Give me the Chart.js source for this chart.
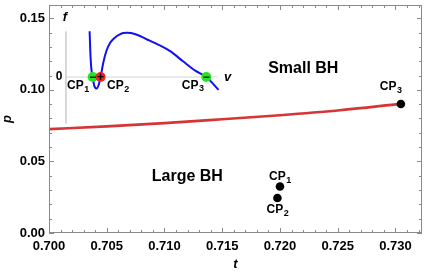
<!DOCTYPE html>
<html><head><meta charset="utf-8">
<script src="https://cdn.jsdelivr.net/npm/chart.js@4.4.1/dist/chart.umd.min.js"></script>
<style>html,body{margin:0;padding:0;background:#fff}#w{width:427px;height:273px}</style>
</head><body><div id="w"><canvas id="c" width="427" height="273"></canvas></div>
<script>
// Main phase-boundary curve (t, p)
const tBoundary = [0.700, 0.705, 0.710, 0.715, 0.720, 0.725, 0.7304];
const pBoundary = [0.0726, 0.0745, 0.0768, 0.0795, 0.0823, 0.0856, 0.0902];
// Critical points
const cpNames = ["CP1", "CP2", "CP3"];
const cpT = [0.7200, 0.71978, 0.73047];
const cpP = [0.0325, 0.0245, 0.0901];
// Inset curve f(v) (arbitrary inset units)
const insetV = [0.155, 0.160, 0.166, 0.175, 0.186, 0.201, 0.214, 0.227, 0.245, 0.266, 0.291, 0.320, 0.353, 0.375, 0.400, 0.451, 0.549, 0.680, 0.767, 0.850, 0.920, 1.0];
const insetF = [1.036, 0.55, 0.2, 0, -0.2, -0.26, -0.18, 0, 0.33, 0.60, 0.78, 0.89, 0.965, 0.995, 1.0, 0.975, 0.822, 0.591, 0.356, 0.14, 0, -0.289];
// Inset zero points with signs
const insetZeroV = [0.175, 0.227, 0.920];
const insetZeroSign = ["−", "+", "−"];
const insetZeroColor = ["#22e622", "#ee2020", "#22e622"];
// Ticks
const xMajor = [0.700, 0.705, 0.710, 0.715, 0.720, 0.725, 0.730];
const yMajor = [0.00, 0.05, 0.10, 0.15];

const FONT = "'Liberation Sans', Arial, sans-serif";

const textPlugin = {
  id: 'texts',
  afterDatasetsDraw(chart) {
    const ctx = chart.ctx, s = chart.scales;
    const X = v => s.x.getPixelForValue(v), Y = v => s.y.getPixelForValue(v);
    const XI = v => s.xi.getPixelForValue(v), YI = v => s.yi.getPixelForValue(v);
    ctx.save();
    ctx.fillStyle = '#000';
    ctx.textBaseline = 'middle';
    function cp(label, sub, x, y, size) {
      ctx.font = 'bold ' + size + 'px ' + FONT;
      const w1 = ctx.measureText(label).width;
      ctx.font = 'bold ' + Math.round(size * 0.72) + 'px ' + FONT;
      const w2 = ctx.measureText(sub).width;
      const x0 = x - (w1 + w2) / 2;
      ctx.textAlign = 'left';
      ctx.font = 'bold ' + size + 'px ' + FONT;
      ctx.fillText(label, x0, y);
      ctx.font = 'bold ' + Math.round(size * 0.72) + 'px ' + FONT;
      ctx.fillText(sub, x0 + w1 + 0.5, y + size * 0.3);
    }
    ctx.textAlign = 'center';
    ctx.font = 'bold 16px ' + FONT;
    ctx.fillText('Small BH', X(0.72202), Y(0.1148));
    ctx.fillText('Large BH', X(0.71198), Y(0.0397));
    cp('CP', '1', X(0.72000), Y(0.0390), 12);
    cp('CP', '2', X(0.71978), Y(0.0163), 12);
    cp('CP', '3', X(0.72958), Y(0.1020), 12);
    cp('CP', '1', XI(0.078), YI(-0.20), 12);
    cp('CP', '2', XI(0.34), YI(-0.20), 12);
    cp('CP', '3', XI(0.83), YI(-0.187), 12);
    ctx.textAlign = 'center';
    ctx.font = 'bold italic 13px ' + FONT;
    ctx.fillText('f', XI(-0.007), YI(1.34));
    ctx.fillText('v', XI(1.06), YI(-0.016));
    ctx.font = 'bold 12px ' + FONT;
    ctx.fillText('0', XI(-0.045), YI(0));
    ctx.font = 'bold 12px ' + FONT;
    insetZeroV.forEach((v, i) => ctx.fillText(insetZeroSign[i], XI(v), YI(0) + 0.5));
    ctx.restore();
  }
};

const framePlugin = {
  id: 'frame',
  afterDraw(chart) {
    const ctx = chart.ctx, a = chart.chartArea, s = chart.scales;
    ctx.save();
    ctx.strokeStyle = '#8a8a8a';
    ctx.lineWidth = 1;
    ctx.strokeRect(Math.round(a.left) + 0.5, Math.round(a.top) + 0.5, Math.round(a.right - a.left) - 1, Math.round(a.bottom - a.top) - 1);
    ctx.beginPath();
    for (let k = 700; k <= 732; k++) {
      const v = k / 1000;
      const px = Math.round(s.x.getPixelForValue(v)) + 0.5;
      const len = (k % 5 === 0) ? 5 : 3;
      ctx.moveTo(px, a.bottom); ctx.lineTo(px, a.bottom - len);
      ctx.moveTo(px, a.top); ctx.lineTo(px, a.top + len);
    }
    for (let k = 0; k <= 15; k++) {
      const v = k / 100;
      const py = Math.round(s.y.getPixelForValue(v)) + 0.5;
      const len = (k % 5 === 0) ? 5 : 3;
      ctx.moveTo(a.left, py); ctx.lineTo(a.left + len, py);
      ctx.moveTo(a.right, py); ctx.lineTo(a.right - len, py);
    }
    ctx.stroke();
    ctx.restore();
  }
};

const boundaryData = tBoundary.map((t, i) => ({x: t, y: pBoundary[i]}));
const cpData = cpT.map((t, i) => ({x: t, y: cpP[i]}));
const insetData = insetV.map((v, i) => ({x: v, y: insetF[i]}));
const zeroData = insetZeroV.map(v => ({x: v, y: 0}));

function noPad(sc) { sc.paddingTop = 0; sc.paddingBottom = 0; sc.paddingLeft = 0; sc.paddingRight = 0; }

new Chart(document.getElementById('c'), {
  type: 'scatter',
  data: {
    datasets: [
      {data: [{x: 0, y: 1.03}, {x: 0, y: -1.053}], xAxisID: 'xi', yAxisID: 'yi', showLine: true, borderColor: '#d4d4d4', borderWidth: 1, pointRadius: 0, order: 5},
      {data: [{x: 0, y: 0}, {x: 0.993, y: 0}], xAxisID: 'xi', yAxisID: 'yi', showLine: true, borderColor: '#d4d4d4', borderWidth: 1, pointRadius: 0, order: 5},
      {data: insetData, xAxisID: 'xi', yAxisID: 'yi', showLine: true, borderColor: '#1010f0', borderWidth: 2, pointRadius: 0, cubicInterpolationMode: 'monotone', order: 4},
      {data: zeroData, xAxisID: 'xi', yAxisID: 'yi', showLine: false, pointRadius: 5, pointBackgroundColor: insetZeroColor, pointBorderWidth: 0, order: 3},
      {data: boundaryData, xAxisID: 'x', yAxisID: 'y', showLine: true, borderColor: '#d63535', borderWidth: 2.6, pointRadius: 0, cubicInterpolationMode: 'monotone', order: 2},
      {data: cpData, xAxisID: 'x', yAxisID: 'y', showLine: false, pointRadius: 4.3, pointBackgroundColor: '#000', pointBorderWidth: 0, order: 1}
    ]
  },
  options: {
    responsive: false,
    animation: false,
    events: [],
    layout: {padding: {left: 0, right: 4, top: 1, bottom: 0}},
    plugins: {legend: {display: false}, tooltip: {enabled: false}},
    scales: {
      x: {
        type: 'linear', min: 0.700, max: 0.7323,
        afterBuildTicks: sc => { sc.ticks = xMajor.map(v => ({value: v})); },
        afterFit: sc => { sc.height = 40; noPad(sc); },
        grid: {display: false, drawTicks: false},
        border: {display: false},
        ticks: {padding: 6, color: '#000', font: {family: FONT, size: 13, weight: 'bold'}, maxRotation: 0, callback: v => v.toFixed(3)},
        title: {display: true, text: 't', color: '#000', padding: {top: 0, bottom: 1}, font: {family: FONT, size: 13, weight: 'bold', style: 'italic'}}
      },
      y: {
        type: 'linear', min: 0, max: 0.1593,
        afterBuildTicks: sc => { sc.ticks = yMajor.map(v => ({value: v})); },
        afterFit: sc => { sc.width = 49; noPad(sc); },
        grid: {display: false, drawTicks: false},
        border: {display: false},
        ticks: {padding: 4, color: '#000', font: {family: FONT, size: 13, weight: 'bold'}, callback: v => v.toFixed(2)},
        title: {display: true, text: 'p', color: '#000', padding: 0, font: {family: FONT, size: 13, weight: 'bold', style: 'italic'}}
      },
      xi: {type: 'linear', display: false, min: -0.1111, max: 2.3333},
      yi: {type: 'linear', display: false, min: -3.5267, max: 1.6289}
    }
  },
  plugins: [textPlugin, framePlugin]
});
</script>
</body></html>
